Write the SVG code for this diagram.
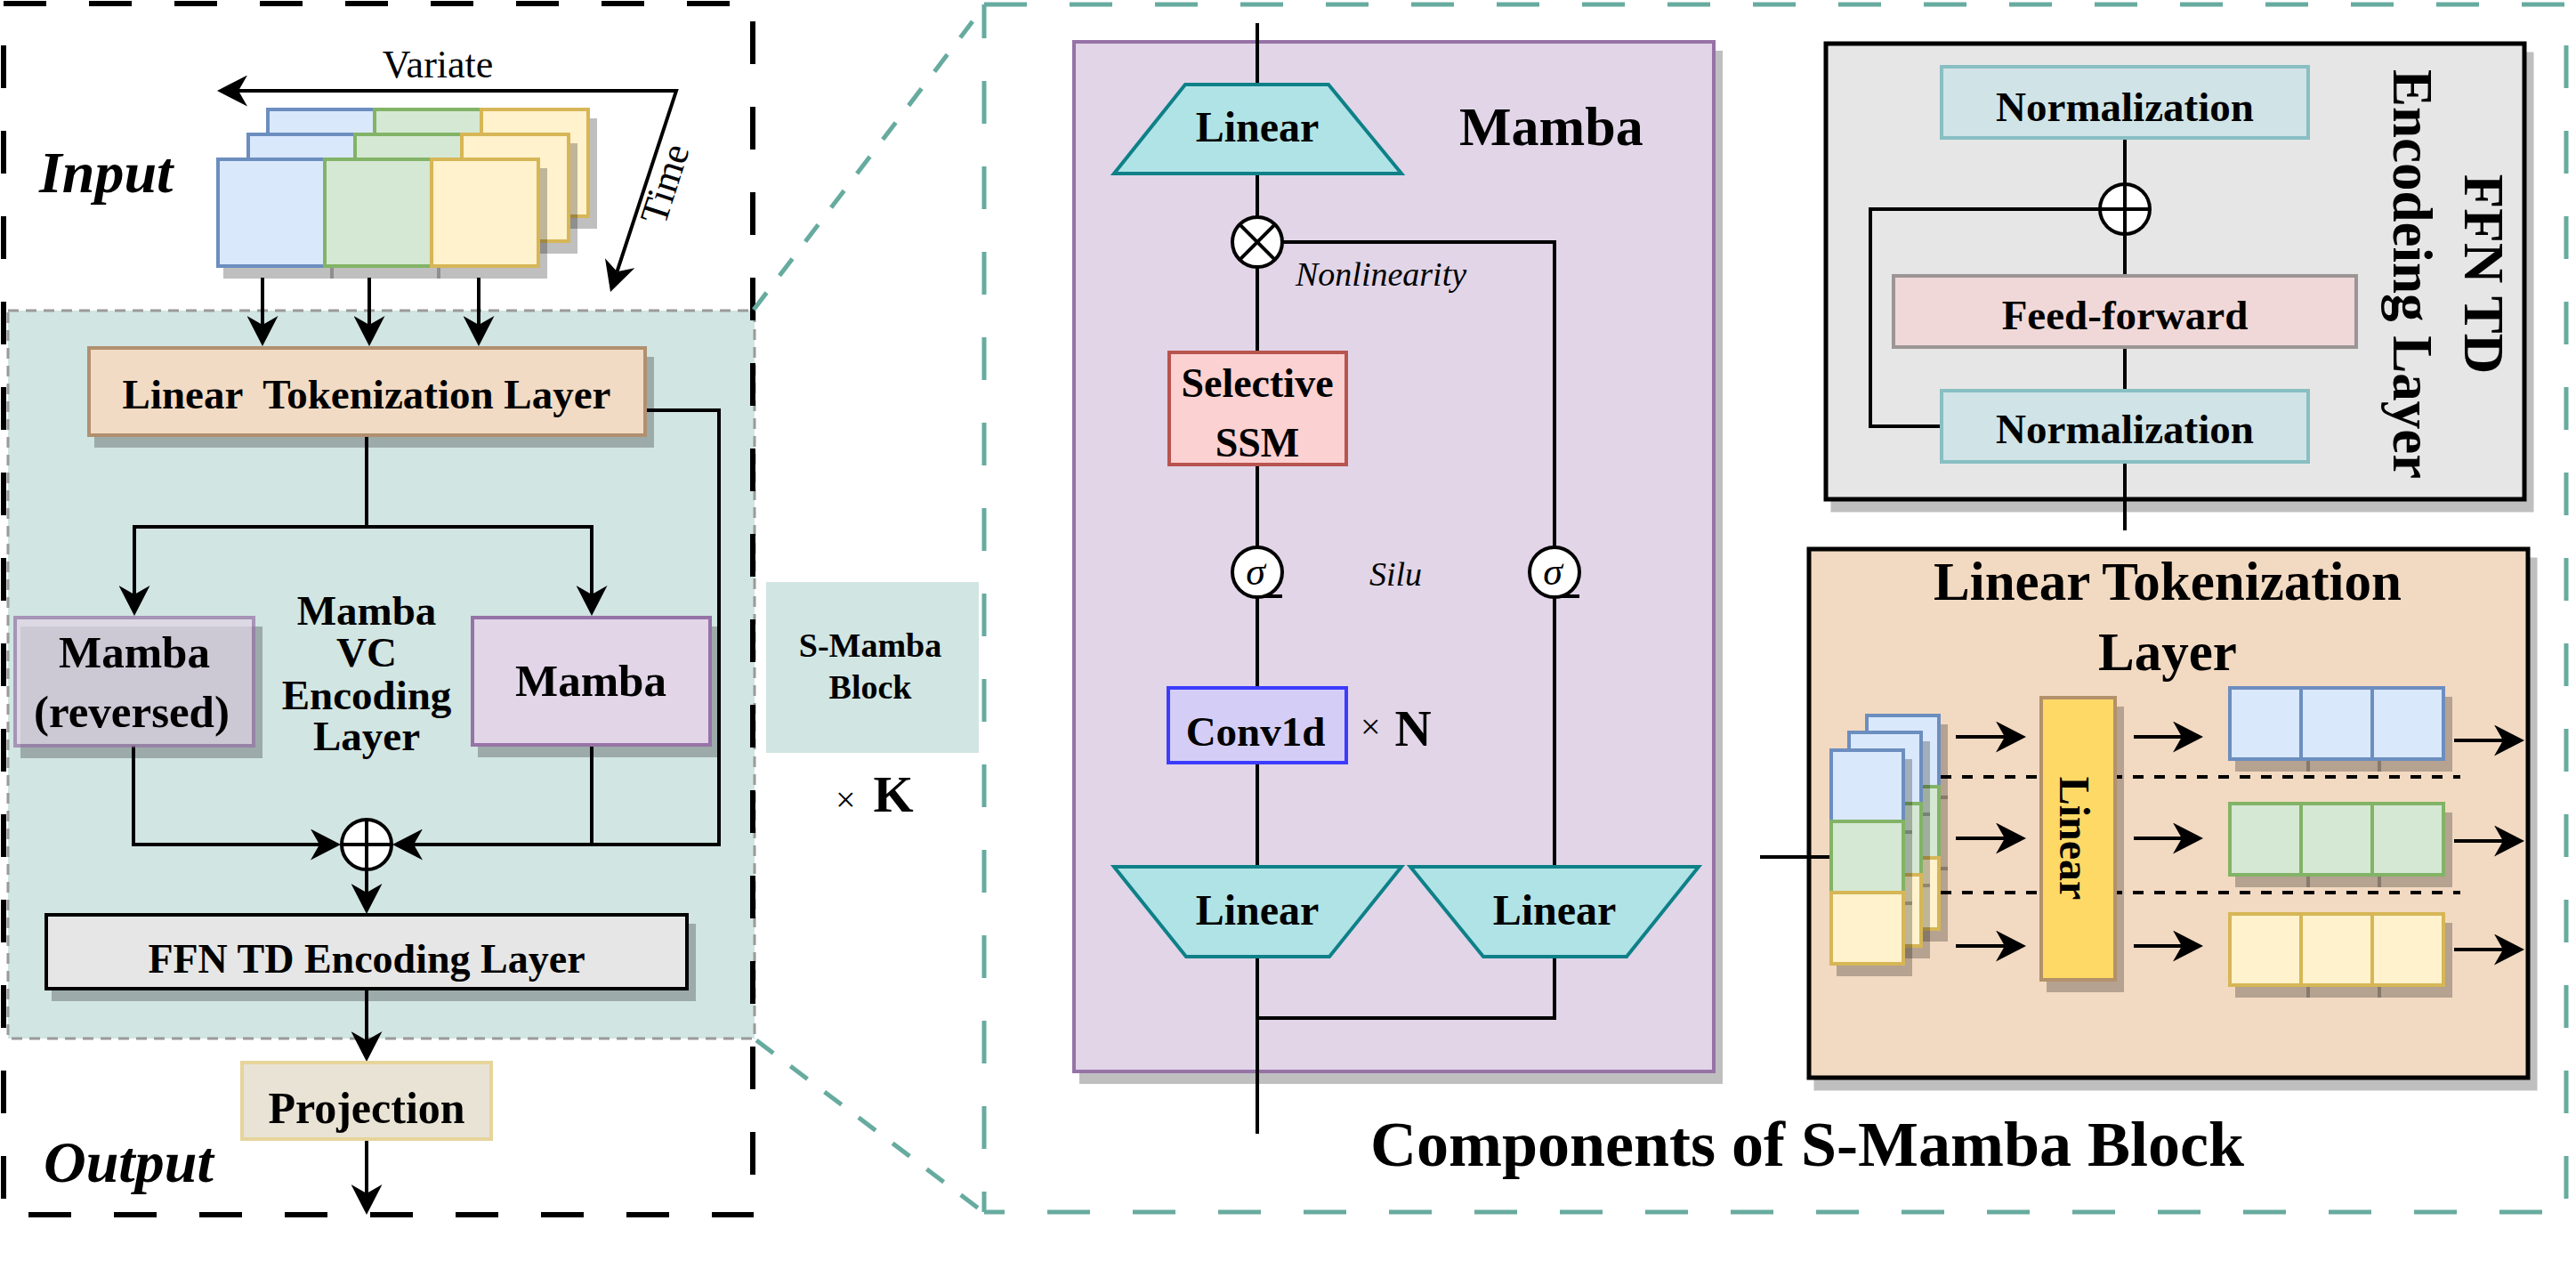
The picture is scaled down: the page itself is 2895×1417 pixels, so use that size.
<svg xmlns="http://www.w3.org/2000/svg" width="2895" height="1417" viewBox="0 0 2895 1417">
<style>
.t{font-family:"Liberation Serif","Times New Roman",serif;fill:#000}
.b{font-weight:bold}
.i{font-style:italic}
.c{text-anchor:middle}
.sh{fill:#000;fill-opacity:.25}
.ln{fill:none;stroke:#000;stroke-width:4}
.ar{marker-end:url(#ah)}
.bl{fill:#dae8fc;stroke:#6c8ebf;stroke-width:4}
.gr{fill:#d5e8d4;stroke:#82b366;stroke-width:4}
.ye{fill:#fff2cc;stroke:#d6b656;stroke-width:4}
.fb{fill:none;stroke:#000;stroke-width:6;stroke-dasharray:48 48}
.ft{fill:none;stroke:#67ab9f;stroke-width:5;stroke-dasharray:48 48}
.trap{fill:#b0e3e6;stroke:#0e8088;stroke-width:4}
.circ{fill:#fff;stroke:#000;stroke-width:4}
.dot{fill:none;stroke:#000;stroke-width:4;stroke-dasharray:12 12}
</style>
<defs>
<marker id="ah" markerUnits="userSpaceOnUse" markerWidth="34" markerHeight="35" refX="10" refY="17.5" orient="auto-start-reverse" viewBox="0 0 34 35">
<path d="M0,0 L34,17.5 L0,35 L10,17.5 Z" fill="#000"/>
</marker>
</defs>
<rect width="2895" height="1417" fill="#fff"/>

<!-- frames -->
<g id="frames">
<rect id="s-mamba-region" x="9" y="349" width="839" height="818" fill="#d1e5e2" stroke="#9a9a9a" stroke-width="3" stroke-dasharray="12 8"/>
<line class="fb" x1="4" y1="4" x2="847" y2="4"/>
<line class="fb" x1="4" y1="4" x2="4" y2="1365" stroke-dashoffset="49"/>
<line class="fb" x1="846" y1="4" x2="846" y2="1365" stroke-dashoffset="76"/>
<line class="fb" x1="4" y1="1365" x2="847" y2="1365" stroke-dashoffset="68"/>
<line class="ft" x1="1106" y1="5" x2="2884" y2="5"/>
<line class="ft" x1="1106" y1="5" x2="1106" y2="1362" stroke-dashoffset="10"/>
<line class="ft" x1="2884" y1="5" x2="2884" y2="1362" stroke-dashoffset="50"/>
<line class="ft" x1="1106" y1="1362" x2="2884" y2="1362" stroke-dashoffset="25"/>
<line x1="847" y1="348" x2="1093" y2="24" stroke="#67ab9f" stroke-width="5" stroke-dasharray="24 24"/>
<line x1="850" y1="1169" x2="1100" y2="1358" stroke="#67ab9f" stroke-width="5" stroke-dasharray="24 24"/>
</g>

<!-- containers -->
<g id="mamba-panel">
<rect class="sh" x="1213" y="57" width="723" height="1161"/>
<rect x="1207" y="47" width="719" height="1157" fill="#e1d5e7" stroke="#9673a6" stroke-width="4"/>
<text class="t b" x="1640" y="163" font-size="62">Mamba</text>
</g>
<g id="ffn-td-panel">
<rect class="sh" x="2057.5" y="58.5" width="790" height="517"/>
<rect x="2052" y="49" width="785" height="512" fill="#e6e6e6" stroke="#000" stroke-width="5"/>
<text class="t b c" font-size="63" transform="translate(2770,308) rotate(90)">FFN TD</text>
<text class="t b c" font-size="63" transform="translate(2690,308) rotate(90)">Encodeing Layer</text>
</g>
<g id="lt-panel">
<rect class="sh" x="2038.5" y="626.5" width="813" height="599"/>
<rect x="2033" y="617" width="808" height="594" fill="#f2d9c1" stroke="#000" stroke-width="5"/>
<text class="t b c" x="2436" y="674" font-size="61">Linear Tokenization</text>
<text class="t b c" x="2436" y="753" font-size="61">Layer</text>
</g>

<!-- connectors -->
<g id="connectors">
<path class="ln" d="M268,102 H760 L693.5,305.2" marker-start="url(#ah)" marker-end="url(#ah)"/>
<path class="ln ar" d="M295,312 V365"/>
<path class="ln ar" d="M415,312 V365"/>
<path class="ln ar" d="M538,312 V365"/>
<path class="ln" d="M412,489 V592"/>
<path class="ln ar" d="M412,592 H151 V668"/>
<path class="ln ar" d="M412,592 H665 V668"/>
<path class="ln ar" d="M150,838 V949 H359"/>
<path class="ln ar" d="M725,461 H808 V949 H465"/>
<path class="ln" d="M665,837 V949"/>
<path class="ln ar" d="M412,977 V1003"/>
<path class="ln ar" d="M412,1111 V1169"/>
<path class="ln ar" d="M412,1280 V1341"/>

<path class="ln" d="M1413,26 V95"/>
<path class="ln" d="M1413,195 V522"/>
<path class="ln" d="M1441,272 H1747 V974"/>
<path class="ln" d="M1413,522 V974"/>
<path class="ln" d="M1413,1075 V1274"/>
<path class="ln" d="M1747,1075 V1144 H1413"/>
<path class="ln" d="M1413,670 H1441"/>
<path class="ln" d="M1747,670 H1775"/>

<path class="ln" d="M2388,155 V596"/>
<path class="ln" d="M2182,479 H2102 V235 H2388"/>

<path class="ln" d="M1978,963 H2058"/>
<line class="dot" x1="2181" y1="873" x2="2765" y2="873"/>
<line class="dot" x1="2181" y1="1003" x2="2765" y2="1003"/>
<path class="ln ar" d="M2198,828 H2253"/>
<path class="ln ar" d="M2198,942 H2253"/>
<path class="ln ar" d="M2198,1063 H2253"/>
<path class="ln ar" d="M2398,828 H2452"/>
<path class="ln ar" d="M2398,942 H2452"/>
<path class="ln ar" d="M2398,1063 H2452"/>
<path class="ln ar" d="M2758,832 H2813"/>
<path class="ln ar" d="M2758,945 H2813"/>
<path class="ln ar" d="M2758,1067 H2813"/>
</g>

<!-- left panel nodes -->
<g id="input-label">
<text class="t b i" x="44" y="216" font-size="66">Input</text>
<text class="t" x="492" y="87" font-size="44" text-anchor="middle">Variate</text>
<text class="t c" font-size="44" transform="translate(761,211) rotate(-72)">Time</text>
</g>
<g id="input-cards">
<rect class="sh" x="307" y="133" width="124" height="124"/>
<rect class="sh" x="427" y="133" width="124" height="124"/>
<rect class="sh" x="547" y="133" width="124" height="124"/>
<rect class="bl" x="301" y="123" width="120" height="120"/>
<rect class="gr" x="421" y="123" width="120" height="120"/>
<rect class="ye" x="541" y="123" width="120" height="120"/>
<rect class="sh" x="285" y="161" width="124" height="124"/>
<rect class="sh" x="405" y="161" width="124" height="124"/>
<rect class="sh" x="525" y="161" width="124" height="124"/>
<rect class="bl" x="279" y="151" width="120" height="120"/>
<rect class="gr" x="399" y="151" width="120" height="120"/>
<rect class="ye" x="519" y="151" width="120" height="120"/>
<rect class="sh" x="251" y="189" width="124" height="124"/>
<rect class="sh" x="371" y="189" width="124" height="124"/>
<rect class="sh" x="491" y="189" width="124" height="124"/>
<rect class="bl" x="245" y="179" width="120" height="120"/>
<rect class="gr" x="365" y="179" width="120" height="120"/>
<rect class="ye" x="485" y="179" width="120" height="120"/>
</g>
<g id="tokenization-box">
<rect class="sh" x="106" y="401" width="629" height="102"/>
<rect x="100" y="391" width="625" height="98" fill="#f2dbc4" stroke="#b1906f" stroke-width="4"/>
<text class="t b c" x="412" y="459" font-size="47" xml:space="preserve">Linear  Tokenization Layer</text>
</g>
<g id="mamba-reversed">
<rect class="sh" x="23" y="704" width="272" height="148"/>
<rect x="17" y="694" width="268" height="144" fill="#e1d5e7" stroke="#9673a6" stroke-width="4" opacity="0.7"/>
<text class="t b c" x="151" y="750" font-size="51">Mamba</text>
<text class="t b c" x="148" y="817" font-size="51">(reversed)</text>
</g>
<g id="mamba-vc-label">
<text class="t b c" x="412" y="702" font-size="47">Mamba</text>
<text class="t b c" x="412" y="749" font-size="47">VC</text>
<text class="t b c" x="412" y="797" font-size="47">Encoding</text>
<text class="t b c" x="412" y="843" font-size="47">Layer</text>
</g>
<g id="mamba-box">
<rect class="sh" x="537" y="704" width="271" height="147"/>
<rect x="531" y="694" width="267" height="143" fill="#e1d5e7" stroke="#9673a6" stroke-width="4"/>
<text class="t b c" x="664" y="782" font-size="51">Mamba</text>
</g>
<g id="plus-left">
<circle class="circ" cx="412" cy="949" r="28"/>
<path class="ln" d="M384,949 H440 M412,921 V977"/>
</g>
<g id="ffn-box">
<rect class="sh" x="58" y="1038" width="724" height="87"/>
<rect x="52" y="1028" width="720" height="83" fill="#e6e6e6" stroke="#000" stroke-width="4"/>
<text class="t b c" x="412" y="1093" font-size="46">FFN TD Encoding Layer</text>
</g>
<g id="projection">
<rect x="272" y="1194" width="280" height="86" fill="#e8e3d4" stroke="#e6d49b" stroke-width="4"/>
<text class="t b c" x="412" y="1262" font-size="50">Projection</text>
</g>
<g id="output-label">
<text class="t b i" x="49" y="1328" font-size="66">Output</text>
</g>
<g id="s-mamba-block">
<rect x="861" y="654" width="239" height="192" fill="#d1e5e2"/>
<text class="t b c" x="978" y="738" font-size="38">S-Mamba</text>
<text class="t b c" x="978" y="785" font-size="38">Block</text>
<text class="t" x="939" y="912"><tspan font-size="40">×</tspan><tspan dx="20" font-size="58" font-weight="bold">K</tspan></text>
</g>

<!-- mamba panel nodes -->
<g id="linear-top">
<polygon class="trap" points="1332,95 1493,95 1575,195 1252,195"/>
<text class="t b c" x="1413" y="159" font-size="48">Linear</text>
</g>
<g id="times-op">
<circle class="circ" cx="1413" cy="272" r="28"/>
<path class="ln" d="M1393.2,252.2 L1432.8,291.8 M1432.8,252.2 L1393.2,291.8"/>
<text class="t i" x="1456" y="321" font-size="38">Nonlinearity</text>
</g>
<g id="selective-ssm">
<rect x="1314" y="396" width="199" height="126" fill="#fbd1d1" stroke="#b85450" stroke-width="4"/>
<text class="t b c" x="1413" y="446" font-size="46">Selective</text>
<text class="t b c" x="1413" y="513" font-size="46">SSM</text>
</g>
<g id="sigma-left">
<circle class="circ" cx="1413" cy="643" r="28"/>
<text class="t i c" x="1411" y="657" font-size="44">σ</text>
</g>
<g id="sigma-right">
<circle class="circ" cx="1747" cy="643" r="28"/>
<text class="t i c" x="1745" y="657" font-size="44">σ</text>
</g>
<text class="t i" x="1539" y="658" font-size="38">Silu</text>
<g id="conv1d">
<rect x="1313" y="773" width="200" height="84" fill="#d4cef6" stroke="#3c3cff" stroke-width="4"/>
<text class="t b c" x="1411" y="838" font-size="47">Conv1d</text>
<text class="t" x="1529" y="830"><tspan font-size="40">×</tspan><tspan dx="16" font-size="57" font-weight="bold" dy="8">N</tspan></text>
</g>
<g id="linear-bottom-left">
<polygon class="trap" points="1252,974 1575,974 1494,1075 1333,1075"/>
<text class="t b c" x="1413" y="1039" font-size="48">Linear</text>
</g>
<g id="linear-bottom-right">
<polygon class="trap" points="1585,974 1909,974 1828,1075 1667,1075"/>
<text class="t b c" x="1747" y="1039" font-size="48">Linear</text>
</g>
<text class="t b c" x="2031" y="1310" font-size="72">Components of S-Mamba Block</text>

<!-- ffn td nodes -->
<g id="norm-top">
<rect x="2182" y="75" width="412" height="80" fill="#d0e3e6" stroke="#88bfc3" stroke-width="4"/>
<text class="t b c" x="2388" y="136" font-size="47">Normalization</text>
</g>
<g id="plus-right">
<circle class="circ" cx="2388" cy="235" r="28"/>
<path class="ln" d="M2360,235 H2416 M2388,207 V263"/>
</g>
<g id="feed-forward">
<rect x="2128" y="310" width="520" height="80" fill="#f0d8d8" stroke="#9c9595" stroke-width="4"/>
<text class="t b c" x="2388" y="370" font-size="47">Feed-forward</text>
</g>
<g id="norm-bottom">
<rect x="2182" y="439" width="412" height="80" fill="#d0e3e6" stroke="#88bfc3" stroke-width="4"/>
<text class="t b c" x="2388" y="498" font-size="47">Normalization</text>
</g>

<!-- linear tokenization nodes -->
<g id="lt-cards">
<rect class="sh" x="2104" y="814" width="85" height="84"/><rect class="bl" x="2098" y="804" width="81" height="80"/>
<rect class="sh" x="2104" y="894" width="85" height="84"/><rect class="gr" x="2098" y="884" width="81" height="80"/>
<rect class="sh" x="2104" y="974" width="85" height="84"/><rect class="ye" x="2098" y="964" width="81" height="80"/>
<rect class="sh" x="2084" y="833" width="85" height="84"/><rect class="bl" x="2078" y="823" width="81" height="80"/>
<rect class="sh" x="2084" y="913" width="85" height="84"/><rect class="gr" x="2078" y="903" width="81" height="80"/>
<rect class="sh" x="2084" y="993" width="85" height="84"/><rect class="ye" x="2078" y="983" width="81" height="80"/>
<rect class="sh" x="2064" y="853" width="85" height="84"/><rect class="bl" x="2058" y="843" width="81" height="80"/>
<rect class="sh" x="2064" y="933" width="85" height="84"/><rect class="gr" x="2058" y="923" width="81" height="80"/>
<rect class="sh" x="2064" y="1013" width="85" height="84"/><rect class="ye" x="2058" y="1003" width="81" height="80"/>
</g>
<g id="lt-linear">
<rect class="sh" x="2300" y="794" width="87" height="321"/>
<rect x="2294" y="784" width="83" height="317" fill="#ffd966" stroke="#b3916b" stroke-width="4"/>
<text class="t b c" font-size="48" transform="translate(2315,942) rotate(90)">Linear</text>
</g>
<g id="lt-row-1">
<rect class="sh" x="2512" y="783" width="84" height="84"/><rect class="sh" x="2592" y="783" width="84" height="84"/><rect class="sh" x="2672" y="783" width="84" height="84"/>
<rect class="bl" x="2506" y="773" width="80" height="80"/><rect class="bl" x="2586" y="773" width="80" height="80"/><rect class="bl" x="2666" y="773" width="80" height="80"/>
</g>
<g id="lt-row-2">
<rect class="sh" x="2512" y="913" width="84" height="84"/><rect class="sh" x="2592" y="913" width="84" height="84"/><rect class="sh" x="2672" y="913" width="84" height="84"/>
<rect class="gr" x="2506" y="903" width="80" height="80"/><rect class="gr" x="2586" y="903" width="80" height="80"/><rect class="gr" x="2666" y="903" width="80" height="80"/>
</g>
<g id="lt-row-3">
<rect class="sh" x="2512" y="1037" width="84" height="84"/><rect class="sh" x="2592" y="1037" width="84" height="84"/><rect class="sh" x="2672" y="1037" width="84" height="84"/>
<rect class="ye" x="2506" y="1027" width="80" height="80"/><rect class="ye" x="2586" y="1027" width="80" height="80"/><rect class="ye" x="2666" y="1027" width="80" height="80"/>
</g>
</svg>
